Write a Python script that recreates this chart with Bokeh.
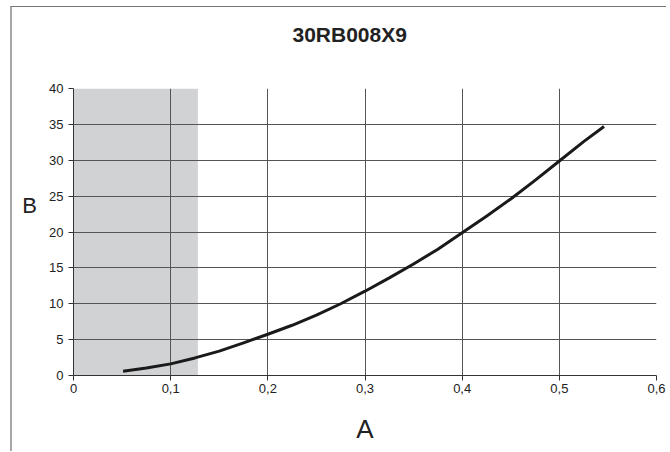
from bokeh.plotting import figure
from bokeh.models import FixedTicker, Range1d, Title
from bokeh.embed import file_html
from bokeh.resources import INLINE

# ---- data ----
title_text = "30RB008X9"
x_label = "A"
y_label = "B"
x_ticks = [0, 0.1, 0.2, 0.3, 0.4, 0.5, 0.6]
x_tick_labels = ["0", "0,1", "0,2", "0,3", "0,4", "0,5", "0,6"]
y_ticks = [0, 5, 10, 15, 20, 25, 30, 35, 40]
y_tick_labels = ["0", "5", "10", "15", "20", "25", "30", "35", "40"]
curve_a = [0.051, 0.075, 0.1, 0.125, 0.15, 0.175, 0.2, 0.225, 0.25, 0.275, 0.3,
           0.325, 0.35, 0.375, 0.4, 0.425, 0.45, 0.475, 0.5, 0.525, 0.546]
curve_b = [0.6, 1.05, 1.62, 2.45, 3.4, 4.55, 5.75, 7.0, 8.4, 10.0, 11.75,
           13.6, 15.55, 17.6, 19.9, 22.2, 24.6, 27.2, 29.9, 32.6, 34.7]
zone_left = [0.0]
zone_right = [0.128]
zone_bottom = [0.0]
zone_top = [40.0]

FONT = "Liberation Sans"
GRID = "#555555"
TEXT = "#222222"

p = figure(width=656, height=445, output_backend="svg", toolbar_location=None,
           title=None,
           x_range=Range1d(0, 0.6), y_range=Range1d(0, 40),
           min_border_left=61, min_border_right=12, min_border_top=81,
           min_border_bottom=77)
p.styles = {"margin-left": "10px", "margin-top": "6px",
            "border-left": "2px solid #a6a6a6", "border-top": "1px solid #777777"}
p.outline_line_color = None
p.background_fill_color = "white"
p.border_fill_color = "white"

p.quad(left=zone_left, right=zone_right, bottom=zone_bottom, top=zone_top,
       fill_color="#d1d2d4", line_color=None, level="image")

p.line(curve_a, curve_b, line_width=3, line_color="#1a1a1a", line_join="round",
       line_cap="butt")

for ax, ticks, labels in ((p.xaxis[0], x_ticks, x_tick_labels),
                          (p.yaxis[0], y_ticks, y_tick_labels)):
    ax.ticker = FixedTicker(ticks=ticks)
    ax.major_label_overrides = {t: l for t, l in zip(ticks, labels)}
    ax.minor_tick_line_color = None
    ax.major_tick_in = 0
    ax.major_tick_out = 5
    ax.major_tick_line_color = "#333333"
    ax.axis_line_color = "#333333"
    ax.major_label_text_font = FONT
    ax.major_label_text_font_size = "13px"
    ax.major_label_text_color = TEXT
    ax.axis_label_text_font = FONT
    ax.axis_label_text_font_style = "normal"
    ax.axis_label_text_color = TEXT

p.xaxis.major_label_standoff = 3
p.yaxis.major_label_standoff = 5

p.xaxis.axis_label = x_label
p.xaxis.axis_label_text_font_size = "26px"
p.xaxis.axis_label_standoff = 18

p.yaxis.axis_label = y_label + "\n"
p.yaxis.axis_label_orientation = "horizontal"
p.yaxis.axis_label_text_font_size = "22px"
p.yaxis.axis_label_text_line_height = 2.1
p.yaxis.axis_label_standoff = 9

for g in (p.xgrid[0], p.ygrid[0]):
    g.grid_line_color = GRID
    g.grid_line_width = 1
p.xgrid.ticker = FixedTicker(ticks=x_ticks)
p.ygrid.ticker = FixedTicker(ticks=y_ticks)

# spacer panel between the frame and the title
p.add_layout(Title(text=" ", text_font_size="1px", standoff=27), "above")
p.add_layout(Title(text=title_text, align="left", offset=219, standoff=26,
                   text_font=FONT, text_font_size="21px", text_font_style="bold",
                   text_color=TEXT), "above")

open("out.html", "w").write(file_html(p, INLINE))
